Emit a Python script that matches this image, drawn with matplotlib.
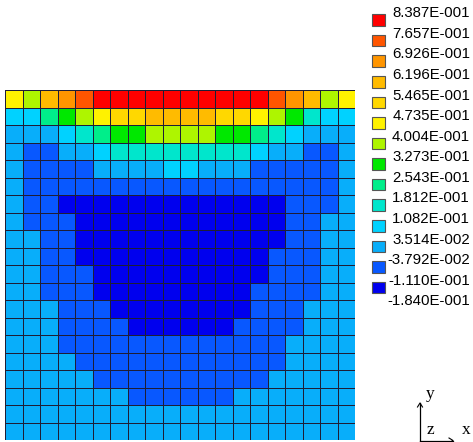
import numpy as np
import matplotlib
matplotlib.use("Agg")
import matplotlib.pyplot as plt
from matplotlib.colors import ListedColormap, BoundaryNorm
from matplotlib.patches import Rectangle

# Contour level boundaries (low -> high) and their printed labels
boundaries = [-0.1840, -0.1110, -0.03792, 0.03514, 0.1082, 0.1812, 0.2543,
              0.3273, 0.4004, 0.4735, 0.5465, 0.6196, 0.6926, 0.7657, 0.8387]
boundary_labels = ["-1.840E-001", "-1.110E-001", "-3.792E-002", "3.514E-002",
                   "1.082E-001", "1.812E-001", "2.543E-001", "3.273E-001",
                   "4.004E-001", "4.735E-001", "5.465E-001", "6.196E-001",
                   "6.926E-001", "7.657E-001", "8.387E-001"]

# One colour per band (low -> high)
band_colors = ["#0000EE", "#0858FF", "#08AEFA", "#00D2FF", "#00E6CC", "#00EE8A",
               "#00E800", "#AEF500", "#FFF200", "#FFD800", "#FFBB00", "#FF9500",
               "#FF5500", "#FF0000"]

# Band index of every element, top row first (20 x 20 mesh)
element_band = [
    [8, 7, 10, 11, 12, 13, 13, 13, 13, 13, 13, 13, 13, 13, 13, 12, 11, 10, 7, 8],
    [3, 3, 5, 6, 7, 8, 9, 9, 10, 10, 10, 10, 9, 9, 8, 7, 6, 4, 3, 3],
    [2, 2, 2, 3, 4, 5, 6, 6, 7, 7, 7, 7, 6, 6, 5, 4, 3, 2, 2, 2],
    [2, 1, 1, 2, 2, 3, 4, 4, 4, 4, 4, 4, 4, 4, 3, 2, 2, 1, 1, 2],
    [2, 1, 1, 1, 1, 2, 2, 2, 2, 3, 3, 2, 2, 2, 1, 1, 1, 1, 1, 2],
    [2, 1, 1, 1, 1, 1, 1, 1, 1, 1, 1, 1, 1, 1, 1, 1, 1, 1, 1, 2],
    [2, 1, 1, 0, 0, 0, 0, 0, 0, 0, 0, 0, 0, 0, 0, 0, 1, 1, 1, 2],
    [2, 1, 1, 1, 0, 0, 0, 0, 0, 0, 0, 0, 0, 0, 0, 0, 1, 1, 2, 2],
    [2, 2, 1, 1, 0, 0, 0, 0, 0, 0, 0, 0, 0, 0, 0, 0, 1, 1, 2, 2],
    [2, 2, 1, 1, 0, 0, 0, 0, 0, 0, 0, 0, 0, 0, 0, 1, 1, 1, 2, 2],
    [2, 2, 1, 1, 1, 0, 0, 0, 0, 0, 0, 0, 0, 0, 0, 1, 1, 1, 2, 2],
    [2, 2, 1, 1, 1, 0, 0, 0, 0, 0, 0, 0, 0, 0, 1, 1, 1, 1, 2, 2],
    [2, 2, 2, 1, 1, 1, 0, 0, 0, 0, 0, 0, 0, 0, 1, 1, 1, 2, 2, 2],
    [2, 2, 2, 1, 1, 1, 1, 0, 0, 0, 0, 0, 0, 1, 1, 1, 1, 2, 2, 2],
    [2, 2, 2, 1, 1, 1, 1, 1, 1, 1, 1, 1, 1, 1, 1, 1, 2, 2, 2, 2],
    [2, 2, 2, 2, 1, 1, 1, 1, 1, 1, 1, 1, 1, 1, 1, 1, 2, 2, 2, 2],
    [2, 2, 2, 2, 2, 1, 1, 1, 1, 1, 1, 1, 1, 1, 1, 2, 2, 2, 2, 2],
    [2, 2, 2, 2, 2, 2, 2, 1, 1, 1, 1, 1, 1, 2, 2, 2, 2, 2, 2, 2],
    [2] * 20,
    [2] * 20,
]

W, H = 473, 442
fig = plt.figure(figsize=(W / 100, H / 100), dpi=100)
fig.patch.set_facecolor("white")

# Element values: centre of each element's band
b = np.array(boundaries)
mid = (b[:-1] + b[1:]) / 2
values = mid[np.array(element_band)][::-1]  # bottom row first for pcolormesh

cmap = ListedColormap(band_colors)
norm = BoundaryNorm(boundaries, cmap.N)

# Mesh area: x 5..355 px, y 90..440 px
ax = fig.add_axes([5 / W, (H - 440) / H, 350 / W, 350 / H])
ax.pcolormesh(values, cmap=cmap, norm=norm, edgecolors="#1e1e36",
              linewidth=0.7)
ax.set_xlim(0, 20)
ax.set_ylim(0, 20)
ax.set_axis_off()

# Overlay in pixel coordinates for the legend and the axis triad
ov = fig.add_axes([0, 0, 1, 1])
ov.set_xlim(0, W)
ov.set_ylim(H, 0)
ov.set_axis_off()

step = 20.57
n = len(boundary_labels)
for k in range(n):
    y = 13.3 + step * k
    ov.text(470, y, boundary_labels[n - 1 - k], ha="right", va="center",
            fontsize=10.8, family="Liberation Sans", color="black")
for k in range(len(band_colors)):
    top = 14.3 + step * k
    ov.add_patch(Rectangle((372, top), 13, 11.5,
                           facecolor=band_colors[len(band_colors) - 1 - k],
                           edgecolor="#555555", linewidth=0.8))

# Axis triad
ox, oy = 420, 440.5
ov.plot([ox, ox], [oy, 403], color="black", lw=0.9)
ov.plot([ox, 453], [oy, oy], color="black", lw=0.9)
ov.plot([ox - 2.5, ox, ox + 2.5], [407, 403, 407], color="black", lw=0.8)
ov.plot([449, 453, 449], [oy - 2.5, oy, oy + 2.5], color="black", lw=0.8)
ov.text(430.5, 394, "y", ha="center", va="center", fontsize=12.5,
        family="Liberation Serif")
ov.text(430.5, 430, "z", ha="center", va="center", fontsize=12.5,
        family="Liberation Serif")
ov.text(466.5, 430, "x", ha="center", va="center", fontsize=12.5,
        family="Liberation Serif")

fig.savefig("out.png", dpi=100)
